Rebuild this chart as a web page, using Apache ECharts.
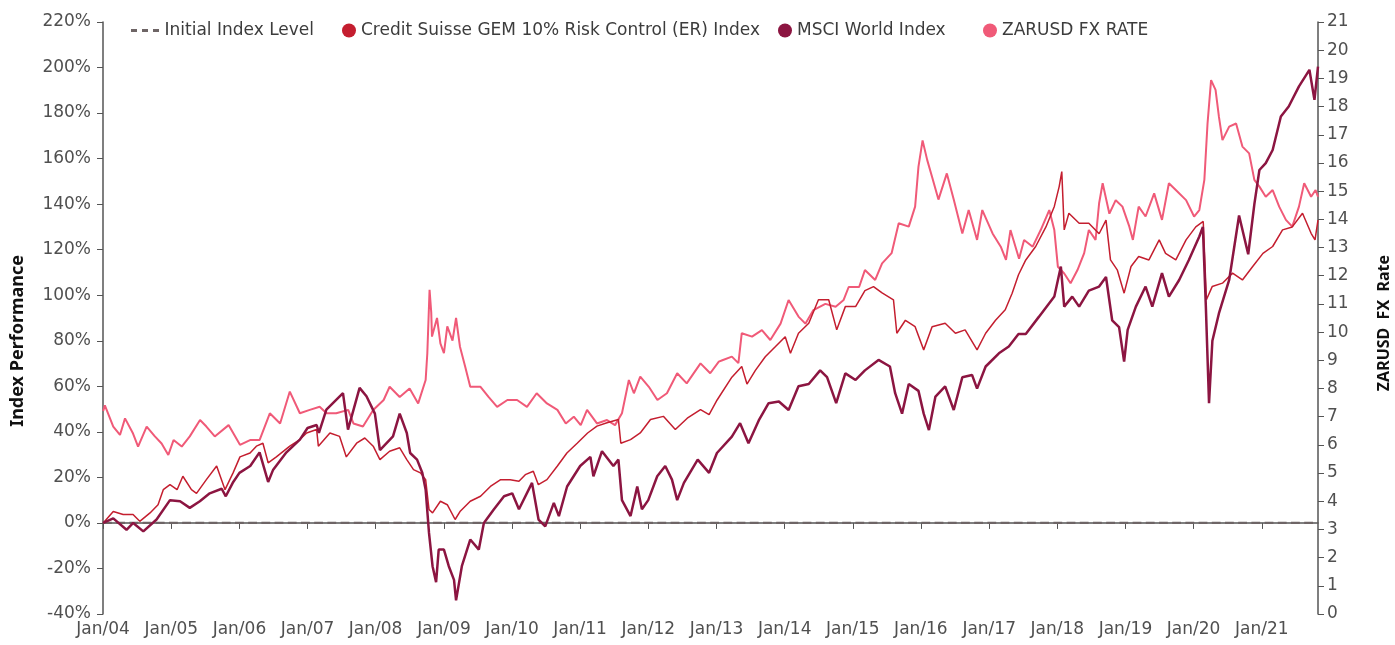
<!DOCTYPE html>
<html>
<head>
<meta charset="utf-8">
<script src="https://cdn.jsdelivr.net/npm/echarts@6/dist/echarts.min.js"></script>
<style>
html,body{margin:0;padding:0;background:#fff;}
#chart{width:1395px;height:645px;}
</style>
</head>
<body>
<div id="chart"></div>
<script>
const seriesNames = ['Initial Index Level', 'Credit Suisse GEM 10% Risk Control (ER) Index', 'MSCI World Index', 'ZARUSD FX RATE'];
const leftAxisTitle = 'Index Performance';
const rightAxisTitle = 'ZARUSD  FX  Rate';
const xStart = '2004-01-01';
const xEnd = '2021-10-29';
const initialLevel = [[xStart, 0], [xEnd, 0]];

const creditSuisse = [
['2004-01-02',0],['2004-02-25',5],['2004-04-18',3.7],['2004-06-10',3.7],['2004-07-16',0.7],['2004-09-09',4.4],
['2004-10-22',8],['2004-11-19',14.6],['2004-12-25',16.8],['2005-02-01',14.6],['2005-03-04',20.5],['2005-04-19',14.6],
['2005-05-16',13],['2005-07-08',19],['2005-09-01',25],['2005-10-16',14.6],['2005-11-28',22],['2006-01-04',29],
['2006-02-27',30.7],['2006-04-02',33.7],['2006-05-07',35],['2006-06-04',26.4],['2006-07-18',29],['2006-09-28',33.7],
['2006-11-21',36.6],['2006-12-27',39.5],['2007-02-19',41],['2007-02-28',33.7],['2007-05-01',39.5],['2007-06-22',38],
['2007-07-28',29],['2007-09-21',35],['2007-11-04',37.3],['2007-12-19',33.7],['2008-01-24',27.8],['2008-03-16',31.5],
['2008-05-09',33],['2008-06-16',27.8],['2008-07-22',23.4],['2008-08-28',22],['2008-09-25',19],['2008-10-13',5.9],
['2008-11-01',4.4],['2008-12-13',9.5],['2009-01-19',8],['2009-03-02',1.5],['2009-03-28',5],['2009-05-22',9.5],
['2009-07-16',11.7],['2009-09-07',16],['2009-11-01',19],['2009-12-22',19],['2010-02-07',18.3],['2010-03-13',21.2],
['2010-04-25',22.7],['2010-05-22',16.8],['2010-07-07',19],['2010-09-01',25],['2010-10-22',30.7],['2010-12-16',35],
['2011-02-10',39.5],['2011-04-01',42.5],['2011-05-25',44],['2011-07-25',45.4],['2011-08-07',35],['2011-09-28',36.6],
['2011-11-19',39.5],['2012-01-13',45.4],['2012-03-22',46.8],['2012-05-25',41],['2012-07-28',46],['2012-10-07',49.8],
['2012-11-22',47.6],['2013-01-04',54],['2013-03-24',64],['2013-05-16',68.7],['2013-06-13',61],['2013-07-28',67],
['2013-09-19',73],['2013-11-13',77.5],['2014-01-04',81.8],['2014-02-01',74.5],['2014-03-16',83.3],['2014-05-10',87.7],
['2014-07-01',98],['2014-08-25',98],['2014-10-07',84.8],['2014-11-22',95],['2015-01-16',95],['2015-03-07',102],
['2015-04-22',103.8],['2015-06-07',101],['2015-08-07',98],['2015-08-25',83.3],['2015-10-10',89],['2015-12-01',86.2],
['2016-01-16',76],['2016-03-01',86.2],['2016-05-10',87.7],['2016-07-04',83.3],['2016-08-25',84.8],['2016-10-28',76],
['2016-12-13',83.3],['2017-02-04',89],['2017-03-28',93.6],['2017-05-04',100.9],['2017-06-07',109],['2017-07-16',115.5],
['2017-09-07',121.4],['2017-11-01',130],['2017-12-16',139],['2018-01-11',147.7],['2018-01-25',154.3],['2018-02-07',128.7],
['2018-03-04',136],['2018-04-28',131.6],['2018-06-19',131.6],['2018-08-13',127],['2018-09-19',133],['2018-10-13',115.5],
['2018-11-19',111],['2018-12-25',100.9],['2019-01-31',112.6],['2019-03-13',117],['2019-05-07',115.5],['2019-07-01',124.3],
['2019-08-04',118.4],['2019-09-28',115.5],['2019-11-22',124.3],['2020-01-13',130],['2020-02-22',132.4],['2020-03-10',98],
['2020-04-10',103.8],['2020-06-04',105.3],['2020-07-28',109.7],['2020-09-19',106.7],['2020-11-13',112.6],['2021-01-07',118.4],
['2021-02-28',121.4],['2021-04-22',128.7],['2021-06-13',130],['2021-08-07',136],['2021-09-22',127.2],['2021-10-13',124.3],
['2021-10-29',133]
];

const msciWorld = [
['2004-01-02',0],['2004-02-25',2],['2004-05-06',-3],['2004-06-11',0],['2004-08-04',-3.7],['2004-10-14',1.5],
['2004-12-25',10],['2005-02-17',9.5],['2005-04-10',6.6],['2005-06-03',9.5],['2005-07-26',13],['2005-09-28',15],
['2005-10-20',11.7],['2005-11-29',18],['2006-01-01',22],['2006-02-28',25],['2006-04-19',31],['2006-06-04',18],
['2006-07-01',23.4],['2006-09-10',31],['2006-11-21',36.6],['2007-01-01',41.7],['2007-02-19',43],['2007-03-03',39.5],
['2007-04-12',49.8],['2007-07-10',57],['2007-08-06',41],['2007-10-07',59.3],['2007-11-13',55.6],['2007-12-28',48],
['2008-01-24',32],['2008-04-03',38],['2008-05-09',48],['2008-06-16',39.5],['2008-07-04',30.7],['2008-08-10',27.8],
['2008-09-07',22],['2008-09-25',14.6],['2008-10-13',-4.4],['2008-11-01',-19],['2008-11-20',-26],['2008-12-04',-11.7],
['2009-01-01',-11.7],['2009-01-27',-19],['2009-02-24',-25],['2009-03-07',-34],['2009-04-07',-19],['2009-05-22',-7.3],
['2009-07-07',-11.7],['2009-08-03',0],['2009-09-25',5.9],['2009-11-19',11.7],['2010-01-02',13],['2010-02-07',6],
['2010-04-18',17.6],['2010-05-23',1.5],['2010-06-28',-1.5],['2010-08-13',8.8],['2010-09-09',3],['2010-10-23',16],
['2011-01-01',25],['2011-02-25',29],['2011-03-13',20.5],['2011-04-28',31.5],['2011-06-28',25],['2011-07-25',27.8],
['2011-08-13',10],['2011-09-28',3],['2011-11-03',16],['2011-11-28',6],['2012-01-01',10],['2012-02-18',20.5],
['2012-04-01',25],['2012-05-07',19],['2012-06-04',10],['2012-07-10',17.6],['2012-09-22',27.8],['2012-11-22',22],
['2013-01-03',30.7],['2013-03-24',37.9],['2013-05-07',43.8],['2013-06-21',35],['2013-08-15',45],['2013-10-07',52.6],
['2013-12-01',53.3],['2014-01-22',49.6],['2014-03-16',60],['2014-05-10',61],['2014-07-10',67],['2014-08-16',64],
['2014-10-04',52.6],['2014-11-22',65.7],['2015-01-16',62.8],['2015-03-07',67],['2015-05-19',71.6],['2015-07-19',68.7],
['2015-08-16',57],['2015-09-22',48],['2015-10-28',61],['2015-12-19',58],['2016-01-16',48],['2016-02-13',40.8],
['2016-03-19',55.5],['2016-05-10',60],['2016-06-25',49.6],['2016-08-10',64],['2016-10-01',65],['2016-10-28',59],
['2016-12-13',68.7],['2017-02-22',74.5],['2017-04-16',77.5],['2017-06-07',83],['2017-07-16',83],['2017-09-25',90.6],
['2017-12-16',99.4],['2018-01-20',112.6],['2018-02-07',95],['2018-03-22',99.4],['2018-04-28',95],['2018-06-19',102],
['2018-08-13',103.8],['2018-09-19',108],['2018-10-22',89],['2018-11-28',86],['2018-12-25',70.9],['2019-01-13',84.8],
['2019-02-26',95],['2019-04-19',103.8],['2019-05-25',95],['2019-07-16',109.7],['2019-08-22',99.4],['2019-10-16',106.7],
['2019-12-07',115.5],['2020-02-01',125.8],['2020-02-20',130],['2020-03-07',95],['2020-03-24',52.6],['2020-04-11',80],
['2020-05-16',92],['2020-07-10',106.7],['2020-09-01',135],['2020-10-20',118],['2020-11-22',140],['2020-12-19',155],
['2021-01-22',158],['2021-02-28',163.8],['2021-04-13',178.5],['2021-05-25',182.9],['2021-07-19',191.7],['2021-09-13',199],
['2021-10-10',185.8],['2021-10-29',200.4]
];

const zarUsd = [
['2004-01-02',7.2],['2004-01-11',7.4],['2004-02-25',6.65],['2004-04-01',6.35],['2004-04-28',6.94],['2004-06-10',6.4],
['2004-07-07',5.94],['2004-08-22',6.65],['2004-10-05',6.3],['2004-11-10',6.05],['2004-12-16',5.64],['2005-01-13',6.17],
['2005-02-26',5.94],['2005-04-10',6.3],['2005-06-04',6.88],['2005-07-08',6.65],['2005-08-22',6.3],['2005-11-04',6.7],
['2006-01-04',6.0],['2006-02-27',6.17],['2006-04-19',6.17],['2006-06-13',7.12],['2006-08-07',6.76],['2006-09-28',7.89],
['2006-11-21',7.12],['2007-01-13',7.24],['2007-03-07',7.35],['2007-04-13',7.12],['2007-06-04',7.12],['2007-08-07',7.24],
['2007-09-04',6.76],['2007-10-25',6.65],['2007-12-19',7.24],['2008-02-13',7.59],['2008-03-16',8.06],['2008-05-09',7.7],
['2008-07-01',8.0],['2008-08-16',7.47],['2008-09-25',8.3],['2008-10-04',9.25],['2008-10-16',11.5],['2008-10-25',10.7],
['2008-10-29',9.84],['2008-11-25',10.5],['2008-12-13',9.6],['2009-01-01',9.25],['2009-01-19',10.2],['2009-02-16',9.7],
['2009-03-07',10.5],['2009-03-28',9.48],['2009-04-25',8.77],['2009-05-22',8.06],['2009-07-16',8.06],['2009-08-28',7.7],
['2009-10-13',7.35],['2009-12-07',7.59],['2010-01-28',7.59],['2010-03-22',7.35],['2010-05-13',7.83],['2010-07-07',7.47],
['2010-09-01',7.24],['2010-10-16',6.76],['2010-11-28',7.0],['2011-01-04',6.7],['2011-02-07',7.24],['2011-04-01',6.76],
['2011-05-25',6.88],['2011-07-07',6.7],['2011-08-13',7.12],['2011-09-19',8.3],['2011-10-16',7.83],['2011-11-19',8.42],
['2012-01-04',8.06],['2012-02-19',7.59],['2012-04-10',7.83],['2012-06-04',8.54],['2012-07-25',8.18],['2012-10-07',8.89],
['2012-11-28',8.54],['2013-01-13',8.95],['2013-02-01',9.0],['2013-03-24',9.13],['2013-04-28',8.9],['2013-05-16',9.96],
['2013-07-10',9.84],['2013-09-01',10.07],['2013-10-16',9.72],['2013-12-10',10.3],['2014-01-22',11.14],['2014-03-16',10.55],
['2014-04-22',10.3],['2014-06-04',10.78],['2014-08-07',11.0],['2014-10-01',10.9],['2014-11-13',11.14],['2014-12-10',11.6],
['2015-02-04',11.6],['2015-03-07',12.2],['2015-05-01',11.85],['2015-06-07',12.44],['2015-07-28',12.8],['2015-09-04',13.86],
['2015-10-28',13.74],['2015-12-01',14.45],['2015-12-19',15.87],['2016-01-10',16.8],['2016-02-04',16.1],['2016-03-01',15.5],
['2016-04-04',14.7],['2016-05-19',15.63],['2016-06-25',14.7],['2016-08-10',13.5],['2016-09-13',14.33],['2016-10-28',13.27],
['2016-11-25',14.33],['2017-01-19',13.5],['2017-03-04',13.03],['2017-04-01',12.56],['2017-04-25',13.62],['2017-06-10',12.6],
['2017-07-07',13.27],['2017-08-22',13.03],['2017-10-04',13.62],['2017-11-19',14.33],['2017-12-16',13.62],['2018-01-04',12.32],
['2018-02-07',12.08],['2018-03-13',11.73],['2018-04-19',12.2],['2018-05-25',12.8],['2018-06-19',13.62],['2018-07-25',13.27],
['2018-08-13',14.57],['2018-09-01',15.28],['2018-10-07',14.2],['2018-11-10',14.68],['2018-12-16',14.45],['2019-01-22',13.74],
['2019-02-10',13.27],['2019-03-13',14.45],['2019-04-19',14.1],['2019-06-04',14.92],['2019-07-16',13.98],['2019-08-22',15.28],
['2019-09-28',15.04],['2019-11-22',14.68],['2020-01-04',14.1],['2020-02-01',14.33],['2020-02-28',15.4],['2020-03-16',17.4],
['2020-04-04',18.94],['2020-04-28',18.59],['2020-05-16',17.64],['2020-06-04',16.81],['2020-07-10',17.29],['2020-08-16',17.4],
['2020-09-19',16.58],['2020-10-25',16.34],['2020-11-22',15.4],['2020-12-19',15.16],['2021-01-22',14.8],['2021-02-28',15.04],
['2021-04-04',14.45],['2021-05-10',13.98],['2021-06-13',13.74],['2021-07-19',14.45],['2021-08-16',15.28],['2021-09-22',14.8],
['2021-10-16',15.04],['2021-10-29',14.8]
];

const colors = {dash:'#6e6566', cs:'#c41e2f', msci:'#8c1541', zar:'#f05a78'};
const textColor = '#505050';
const axisColor = '#555555';
const tickFont = '"DejaVu Sans", "Noto Sans", sans-serif';
const titleFont = '"Noto Sans", "DejaVu Sans", sans-serif';

const chart = echarts.init(document.getElementById('chart'), null, {renderer:'canvas'});

function legendItem(left, name, icon, w, h) {
  return {
    left: left, top: 17, itemWidth: w, itemHeight: h, itemGap: 0,
    icon: icon, selectedMode: false,
    textStyle: {color: '#3c3c3c', fontSize: 17, fontFamily: tickFont},
    data: [name]
  };
}

const dashIcon = 'path://M0,0H6V3H0Z M11,0H17V3H11Z M22,0H28V3H22Z';

chart.setOption({
  animation: false,
  color: [colors.dash, colors.cs, colors.msci, colors.zar],
  legend: [
    legendItem(126, seriesNames[0], dashIcon, 29, 3),
    legendItem(337, seriesNames[1], 'circle', 14, 14),
    legendItem(773, seriesNames[2], 'circle', 14, 14),
    legendItem(978, seriesNames[3], 'circle', 14, 14)
  ],
  graphic: [
    {type: 'text', silent: true,
     style: {text: leftAxisTitle, fill: '#111', font: 'bold 18px ' + titleFont},
     rotation: Math.PI / 2, left: 9, top: 255},
    {type: 'text', silent: true,
     style: {text: rightAxisTitle, fill: '#111', font: 'bold 16px ' + titleFont},
     rotation: Math.PI / 2, left: 1376, top: 255}
  ],
  grid: {left: 103, right: 77, top: 22, bottom: 31, containLabel: false},
  xAxis: {
    type: 'time',
    min: xStart, max: xEnd,
    minInterval: 365 * 24 * 3600 * 1000,
    maxInterval: 366 * 24 * 3600 * 1000,
    splitLine: {show: false},
    axisLine: {lineStyle: {color: axisColor, width: 1.5}},
    axisTick: {show: true, length: 6, lineStyle: {color: axisColor}},
    axisLabel: {
      color: textColor, fontSize: 17, fontFamily: tickFont, margin: 7,
      showMaxLabel: false, hideOverlap: false,
      formatter: function (v) { const d = new Date(v); return 'Jan/' + String(d.getFullYear()).slice(2); }
    }
  },
  yAxis: [
    {
      type: 'value', min: -40, max: 220, interval: 20, position: 'left',
      splitLine: {show: false},
      axisLine: {show: true, lineStyle: {color: axisColor, width: 1.5}},
      axisTick: {show: true, length: 6, lineStyle: {color: axisColor}},
      axisLabel: {color: textColor, fontSize: 17, fontFamily: tickFont, margin: 12, formatter: '{value}%'}
    },
    {
      type: 'value', min: 0, max: 21, interval: 1, position: 'right',
      splitLine: {show: false},
      axisLine: {show: true, lineStyle: {color: axisColor, width: 1.5}},
      axisTick: {show: true, length: 6, lineStyle: {color: axisColor}},
      axisLabel: {color: textColor, fontSize: 17, fontFamily: tickFont, margin: 9}
    }
  ],
  series: [
    {name: seriesNames[0], type: 'line', yAxisIndex: 0, data: initialLevel, symbol: 'none', z: 1,
     lineStyle: {color: colors.dash, width: 2.2, type: 'dashed'}, itemStyle: {color: colors.dash}},
    {name: seriesNames[3], type: 'line', yAxisIndex: 1, data: zarUsd, symbol: 'none', z: 2,
     lineStyle: {color: colors.zar, width: 2}, itemStyle: {color: colors.zar}},
    {name: seriesNames[1], type: 'line', yAxisIndex: 0, data: creditSuisse, symbol: 'none', z: 3,
     lineStyle: {color: colors.cs, width: 1.5}, itemStyle: {color: colors.cs}},
    {name: seriesNames[2], type: 'line', yAxisIndex: 0, data: msciWorld, symbol: 'none', z: 4,
     lineStyle: {color: colors.msci, width: 2.5}, itemStyle: {color: colors.msci}}
  ]
});
</script>
</body>
</html>
